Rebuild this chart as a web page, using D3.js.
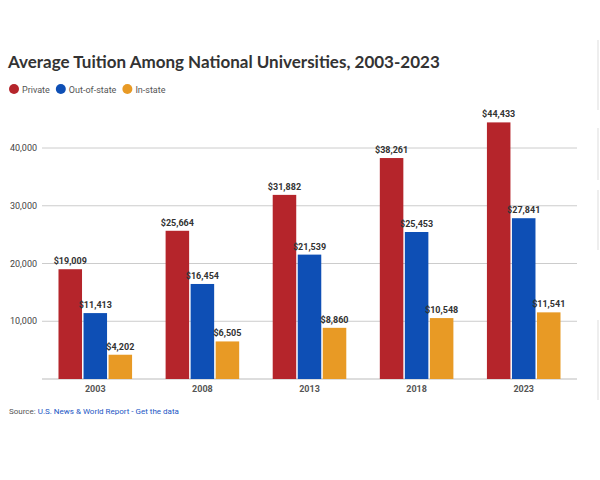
<!DOCTYPE html><html><head><meta charset="utf-8"><script src="https://cdn.jsdelivr.net/npm/d3@7"></script>
<style>body{margin:0;background:#fff;font-family:Roboto,"Open Sans",sans-serif}</style></head><body><svg id="c" width="600" height="480"></svg>
<script>
const years=["2003","2008","2013","2018","2023"];
const series=["Private","Out-of-state","In-state"];
const colors=["#b5252b","#0e4fb5","#e89a25"];
const priv=[19009,25664,31882,38261,44433];
const outs=[11413,16454,21539,25453,27841];
const ins=[4202,6505,8860,10548,11541];
const ticks=[10000,20000,30000,40000];
const vals=[priv,outs,ins];
const svg=d3.select("#c");
const x=d3.scaleBand().domain(years).range([42,577]).paddingInner(0.285).paddingOuter(0.14);
const xs=d3.scaleBand().domain(series).range([0,x.bandwidth()]).padding(0.06);
const y=d3.scaleLinear().domain([0,40000]).range([379,148]);
svg.append("text").attr("x",8).attr("y",68).attr("font-size",17).attr("font-weight","bold").attr("fill","#333").attr("font-family","Lato,sans-serif").text("Average Tuition Among National Universities, 2003-2023");
let lx=9;
series.forEach((s,i)=>{svg.append("circle").attr("cx",lx+5).attr("cy",89).attr("r",5).attr("fill",colors[i]);
 const t=svg.append("text").attr("x",lx+13).attr("y",92.5).attr("font-size",9).attr("fill","#555").text(s);
 lx+=13+t.node().getComputedTextLength()+6;});
ticks.forEach(t=>{svg.append("line").attr("x1",42).attr("x2",577).attr("y1",y(t)).attr("y2",y(t)).attr("stroke","#ccc");
 svg.append("text").attr("x",37).attr("y",y(t)+3).attr("text-anchor","end").attr("font-size",9).attr("fill","#444").text(d3.format(",")(t));});
svg.append("line").attr("x1",42).attr("x2",577).attr("y1",y(0)).attr("y2",y(0)).attr("stroke","#bbb");
years.forEach((yr,j)=>{
 series.forEach((s,i)=>{const v=vals[i][j];const bx=x(yr)+xs(s);
  svg.append("rect").attr("x",bx).attr("y",y(v)).attr("width",xs.bandwidth()).attr("height",y(0)-y(v)).attr("fill",colors[i]);
  svg.append("text").attr("x",bx+xs.bandwidth()/2).attr("y",y(v)-5).attr("text-anchor","middle").attr("font-size",9).attr("font-weight","bold").attr("fill","#333").text("$"+d3.format(",")(v));});
 svg.append("text").attr("x",x(yr)+x.bandwidth()/2).attr("y",392).attr("text-anchor","middle").attr("font-size",9).attr("font-weight","bold").attr("fill","#555").text(yr);
});
const src=svg.append("text").attr("x",9).attr("y",414).attr("font-size",8);
src.append("tspan").attr("fill","#555").text("Source: ");
src.append("tspan").attr("fill","#1a56c4").text("U.S. News & World Report - Get the data");
svg.append("line").attr("x1",598).attr("x2",598).attr("y1",40).attr("y2",110).attr("stroke","#ddd");
svg.append("line").attr("x1",598).attr("x2",598).attr("y1",128).attr("y2",180).attr("stroke","#ddd");
svg.append("line").attr("x1",598).attr("x2",598).attr("y1",190).attr("y2",250).attr("stroke","#ddd");
svg.append("line").attr("x1",598).attr("x2",598).attr("y1",320).attr("y2",400).attr("stroke","#ddd");
</script></body></html>
